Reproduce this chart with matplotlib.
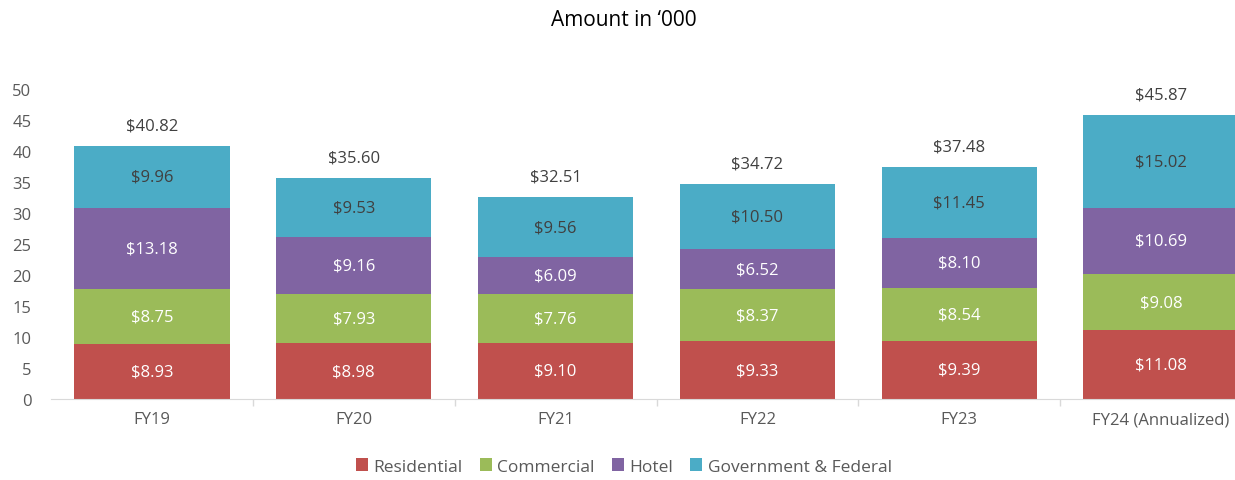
import matplotlib.pyplot as plt
import numpy as np

plt.rcParams['font.family'] = ['Open Sans', 'DejaVu Sans']

# data
years = ['FY19', 'FY20', 'FY21', 'FY22', 'FY23', 'FY24 (Annualized)']
residential = [8.93, 8.98, 9.10, 9.33, 9.39, 11.08]
commercial = [8.75, 7.93, 7.76, 8.37, 8.54, 9.08]
hotel = [13.18, 9.16, 6.09, 6.52, 8.10, 10.69]
government = [9.96, 9.53, 9.56, 10.50, 11.45, 15.02]

series = [('Residential', residential, '#C0504D', 'white'),
          ('Commercial', commercial, '#9BBB59', 'white'),
          ('Hotel', hotel, '#8064A2', 'white'),
          ('Government & Federal', government, '#4BACC6', '#404040')]

fig = plt.figure(figsize=(12.35, 4.81), dpi=100)
ax = fig.add_axes([51 / 1235, 81 / 481, (1235 - 51) / 1235, 310 / 481])

x = np.arange(len(years))
bottom = np.zeros(len(years))
for name, vals, col, tcol in series:
    vals = np.array(vals)
    ax.bar(x, vals, 0.77, bottom=bottom, color=col, label=name, zorder=2)
    for xi, b, v in zip(x, bottom, vals):
        ax.text(xi, b + v / 2, f'${v:.2f}', ha='center', va='center',
                color=tcol, fontsize=12)
    bottom += vals

for xi, tot in zip(x, bottom):
    ax.text(xi, tot + 3.3, f'${tot:.2f}', ha='center', va='center',
            color='#404040', fontsize=12)

ax.set_ylim(0, 50)
ax.set_xlim(-0.5, 5.5 - 27 / 201.8)
ax.set_yticks(range(0, 51, 5))
ax.set_xticks(x)
ax.set_xticklabels(years)
ax.set_xticks(np.arange(0.5, 5, 1), minor=True)
ax.tick_params(axis='y', length=0, labelsize=12, labelcolor='#595959', pad=14)
ax.tick_params(axis='x', which='major', length=0, labelsize=12,
               labelcolor='#595959', pad=9)
ax.tick_params(axis='x', which='minor', length=5, color='#D9D9D9', width=1)
for s in ['top', 'right', 'left']:
    ax.spines[s].set_visible(False)
ax.spines['bottom'].set_color('#D9D9D9')

fig.text(0.505, 0.958, 'Amount in \u2018000', ha='center', va='center',
         fontsize=15, color='black')

fig.legend(loc='center', bbox_to_anchor=(0.505, 0.028), ncol=4, frameon=False,
           fontsize=12.5, handlelength=0.7, handleheight=0.7,
           handletextpad=0.3, columnspacing=1.0, labelcolor='#595959')

fig.savefig('out.png', dpi=100)
